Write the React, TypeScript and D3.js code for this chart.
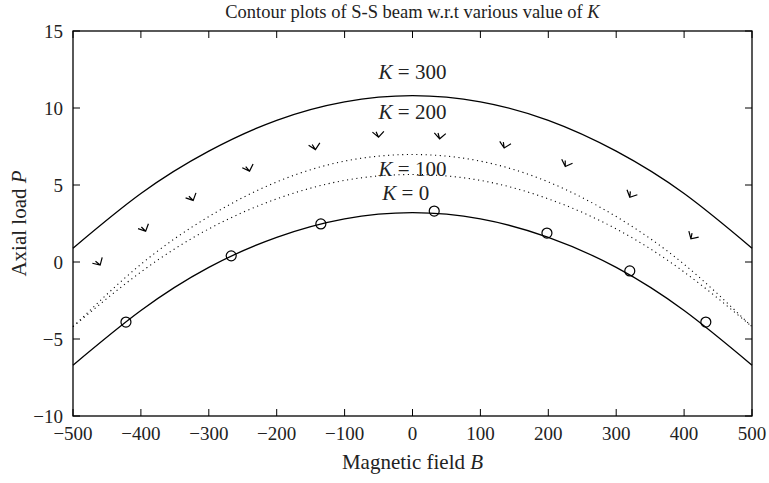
import React from "react";
import * as d3 from "d3";

const W = 769;
const H = 483;
const M = { left: 73, top: 31, right: 17, bottom: 67 };

const xTicks = [-500, -400, -300, -200, -100, 0, 100, 200, 300, 400, 500];
const yTicks = [-10, -5, 0, 5, 10, 15];

const bGrid = [-500, -400, -300, -200, -100, 0, 100, 200, 300, 400, 500];
const pK300 = [0.9, 4.45, 7.2, 9.2, 10.4, 10.8, 10.4, 9.2, 7.2, 4.45, 0.9];
const pK200 = [-4.2, -0.15, 2.95, 5.2, 6.55, 6.98, 6.55, 5.2, 2.95, -0.15, -4.2];
const pK100 = [-4.2, -0.65, 2.15, 4.1, 5.3, 5.68, 5.3, 4.1, 2.15, -0.65, -4.2];
const pK0 = [-6.7, -3.15, -0.35, 1.6, 2.8, 3.2, 2.8, 1.6, -0.35, -3.15, -6.7];

const circleB = [-422, -267, -135, 32, 198, 320, 432];
const circleP = [-3.9, 0.4, 2.47, 3.31, 1.88, -0.58, -3.9];

const arrowB = [-460, -393, -323, -240, -143, -50, 40, 135, 225, 320, 410];
const arrowP = [-0.2, 2.0, 4.0, 5.9, 7.3, 8.1, 8.0, 7.4, 6.2, 4.2, 1.5];

const curveLabels = [
  { text: "300", b: 0, p: 11.9 },
  { text: "200", b: 0, p: 9.3 },
  { text: "100", b: 0, p: 5.6 },
  { text: "0", b: -10, p: 4.0 },
];

const FONT = "'Liberation Serif', 'Times New Roman', serif";

export default function App() {
  const iw = W - M.left - M.right;
  const ih = H - M.top - M.bottom;
  const x = d3.scaleLinear().domain([-500, 500]).range([M.left, M.left + iw]);
  const y = d3.scaleLinear().domain([-10, 15]).range([M.top + ih, M.top]);

  const line = d3
    .line<number>()
    .x((_, i) => x(bGrid[i]))
    .y((d) => y(d))
    .curve(d3.curveNatural);

  const fmt = d3.format("d");
  const tl = 7;

  const f300 = d3.scaleLinear<number>().domain(bGrid).range(pK300);
  const slopeAt = (b: number) => {
    const h = 5;
    const dy = y(f300(b + h)) - y(f300(b - h));
    const dx = x(b + h) - x(b - h);
    return Math.atan2(dy, dx);
  };

  return (
    <svg
      width={W}
      height={H}
      style={{ position: "absolute", left: 0, top: 0, background: "#fff" }}
      fontFamily={FONT}
    >
      <rect x={0} y={0} width={W} height={H} fill="#fff" />
      <text x={M.left + iw / 2} y={18} textAnchor="middle" fontSize={18.5} fill="#222">
        Contour plots of S-S beam w.r.t various value of <tspan fontStyle="italic">K</tspan>
      </text>

      <path d={line(pK300) || ""} fill="none" stroke="#000" strokeWidth={1.3} />
      <path d={line(pK0) || ""} fill="none" stroke="#000" strokeWidth={1.3} />
      <path d={line(pK200) || ""} fill="none" stroke="#000" strokeWidth={1.1} strokeDasharray="1.1,3.6" />
      <path d={line(pK100) || ""} fill="none" stroke="#000" strokeWidth={1.1} strokeDasharray="1.1,3.6" />

      {circleB.map((b, i) => (
        <circle key={"c" + i} cx={x(b)} cy={y(circleP[i])} r={5} fill="none" stroke="#000" strokeWidth={1.2} />
      ))}

      {arrowB.map((b, i) => {
        const a = Math.PI / 2 + 0.8 * slopeAt(b);
        const tx = x(b);
        const ty = y(arrowP[i]);
        const L = 8;
        const S = 6;
        const back = a + Math.PI;
        const a1 = back - 0.8;
        const a2 = back + 0.8;
        const d =
          `M${tx + L * Math.cos(a1)},${ty + L * Math.sin(a1)}L${tx},${ty}L${tx + L * Math.cos(a2)},${ty + L * Math.sin(a2)}` +
          `M${tx},${ty}L${tx + S * Math.cos(back - 0.35)},${ty + S * Math.sin(back - 0.35)}`;
        return <path key={"a" + i} d={d} fill="none" stroke="#000" strokeWidth={1.2} />;
      })}

      {curveLabels.map((l, i) => (
        <text key={"l" + i} x={x(l.b)} y={y(l.p)} textAnchor="middle" fontSize={21} fill="#222">
          <tspan fontStyle="italic">K</tspan> = {l.text}
        </text>
      ))}

      <rect x={M.left} y={M.top} width={iw} height={ih} fill="none" stroke="#000" strokeWidth={1.3} />
      {xTicks.map((t) => (
        <g key={"xt" + t}>
          <line x1={x(t)} x2={x(t)} y1={M.top + ih} y2={M.top + ih - tl} stroke="#000" strokeWidth={1} />
          <line x1={x(t)} x2={x(t)} y1={M.top} y2={M.top + tl} stroke="#000" strokeWidth={1} />
          <text x={x(t)} y={M.top + ih + 24} textAnchor="middle" fontSize={19} fill="#222">
            {fmt(t).replace("-", "\u2212")}
          </text>
        </g>
      ))}
      {yTicks.map((t) => (
        <g key={"yt" + t}>
          <line x1={M.left} x2={M.left + tl} y1={y(t)} y2={y(t)} stroke="#000" strokeWidth={1} />
          <line x1={M.left + iw} x2={M.left + iw - tl} y1={y(t)} y2={y(t)} stroke="#000" strokeWidth={1} />
          <text x={63} y={y(t) + 6.5} textAnchor="end" fontSize={19} fill="#222">
            {fmt(t).replace("-", "\u2212")}
          </text>
        </g>
      ))}

      <text x={M.left + iw / 2} y={469} textAnchor="middle" fontSize={21} fill="#222">
        Magnetic field <tspan fontStyle="italic">B</tspan>
      </text>
      <text
        transform={`translate(26,${M.top + ih / 2}) rotate(-90)`}
        textAnchor="middle"
        fontSize={21}
        fill="#222"
      >
        Axial load <tspan fontStyle="italic">P</tspan>
      </text>
    </svg>
  );
}
